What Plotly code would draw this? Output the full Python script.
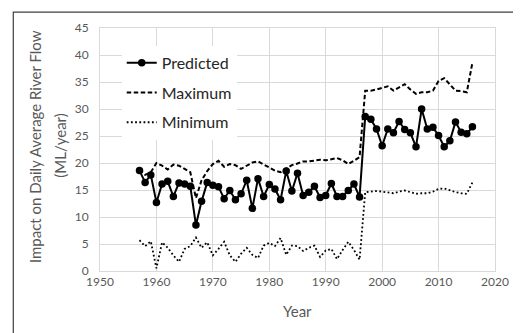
import plotly.graph_objects as go

years = list(range(1957, 2017))

predicted = [18.6, 16.4, 17.8, 12.7, 16.1, 16.6, 13.8, 16.3, 16.1, 15.7,
             8.5, 12.9, 16.4, 15.9, 15.6, 13.4, 14.9, 13.2, 14.3, 16.8,
             11.6, 17.1, 13.8, 16.0, 15.2, 13.2, 18.5, 14.8, 18.1, 14.0,
             14.6, 15.7, 13.6, 14.0, 16.2, 13.8, 13.8, 14.9, 16.1, 13.7,
             28.6, 28.1, 26.3, 23.2, 26.3, 25.6, 27.7, 26.2, 25.6, 23.0,
             30.0, 26.3, 26.6, 25.1, 23.0, 24.1, 27.6, 25.7, 25.4, 26.7]

maximum = [18.8, 17.8, 18.3, 20.0, 19.5, 18.8, 19.7, 19.5, 18.9, 18.3,
           13.5, 16.8, 18.5, 19.8, 20.4, 19.3, 19.8, 19.6, 18.9, 19.5,
           20.1, 20.3, 19.7, 19.2, 18.6, 18.3, 18.9, 19.6, 19.9, 20.3,
           20.3, 20.4, 20.6, 20.5, 20.7, 20.9, 20.5, 19.8, 20.4, 21.1,
           33.4, 33.4, 33.6, 33.9, 34.2, 33.4, 34.0, 34.6, 33.6, 32.8,
           33.1, 33.1, 33.4, 35.2, 35.7, 34.5, 33.4, 33.3, 33.1, 38.6]

minimum = [5.7, 4.6, 5.5, 0.5, 5.3, 4.3, 2.9, 1.7, 4.1, 4.6,
           6.2, 4.3, 5.3, 2.9, 4.1, 5.4, 2.9, 1.7, 3.2, 4.3,
           3.0, 2.4, 4.7, 5.2, 4.6, 6.1, 3.0, 4.7, 4.6, 3.7,
           4.3, 4.7, 2.6, 3.8, 4.1, 2.2, 3.9, 5.4, 3.9, 2.1,
           14.6, 14.7, 14.8, 14.7, 14.6, 14.4, 14.7, 14.9, 14.6, 14.3,
           14.4, 14.4, 14.7, 15.2, 15.3, 14.9, 14.6, 14.4, 14.3, 16.4]

x_ticks = [1950, 1960, 1970, 1980, 1990, 2000, 2010, 2020]
y_ticks = [0, 5, 10, 15, 20, 25, 30, 35, 40, 45]

y_title_line1 = "Impact on Daily Average River Flow"
y_title_line2 = "(ML/year)"
x_title = "Year"

FONT = "Lato"
GRAY = "#595959"

fig = go.Figure()
fig.add_trace(go.Scatter(x=years, y=predicted, name="Predicted", mode="lines+markers",
                         line=dict(color="black", width=2),
                         marker=dict(color="black", size=7.5), legendgroup="a"))
fig.add_trace(go.Scatter(x=years, y=maximum, name="Maximum", mode="lines",
                         line=dict(color="black", width=2, dash="4.5px,2.5px"), legendgroup="b"))
fig.add_trace(go.Scatter(x=years, y=minimum, name="Minimum", mode="lines",
                         line=dict(color="black", width=1.8, dash="1.8px,2.4px"), legendgroup="c"))

fig.update_layout(
    width=513, height=325,
    margin=dict(l=92, r=20, t=18, b=62),
    paper_bgcolor="white", plot_bgcolor="white",
    font=dict(family=FONT, color=GRAY),
    showlegend=True,
    legend=dict(x=0.055, y=0.927, xanchor="left", yanchor="top",
                bgcolor="white", borderwidth=0, tracegroupgap=6,
                font=dict(family=FONT, size=16, color="#262626")),
    xaxis=dict(range=[1950, 2020], tickvals=x_ticks, ticktext=[str(v) for v in x_ticks],
               showgrid=True, gridcolor="#d9d9d9", gridwidth=1,
               zeroline=False, showline=True, linecolor="#d9d9d9", mirror=True,
               ticks="", tickfont=dict(size=12, color=GRAY)),
    yaxis=dict(range=[0, 45], tickvals=y_ticks, ticktext=[str(v) for v in y_ticks],
               showgrid=True, gridcolor="#d9d9d9", gridwidth=1,
               zeroline=False, showline=True, linecolor="#d9d9d9", mirror=True,
               ticks="", ticklabelstandoff=8, tickfont=dict(size=12, color=GRAY)),
    annotations=[
        dict(text=y_title_line1, xref="paper", yref="paper", x=-0.1646, y=0.514,
             textangle=-90, showarrow=False, xanchor="center", yanchor="middle",
             font=dict(family=FONT, size=15, color=GRAY)),
        dict(text=y_title_line2, xref="paper", yref="paper", x=-0.1022, y=0.514,
             textangle=-90, showarrow=False, xanchor="center", yanchor="middle",
             font=dict(family=FONT, size=15, color=GRAY)),
        dict(text=x_title, xref="paper", yref="paper", x=0.499, y=-0.163,
             showarrow=False, xanchor="center", yanchor="middle",
             font=dict(family=FONT, size=15, color=GRAY)),
    ],
    shapes=[dict(type="rect", xref="paper", yref="paper",
                 x0=-0.2195, x1=1.2, y0=-0.4, y1=1.0653,
                 line=dict(color="#404040", width=1.2), fillcolor="rgba(0,0,0,0)",
                 layer="below")],
)

fig.write_html("out.html")
